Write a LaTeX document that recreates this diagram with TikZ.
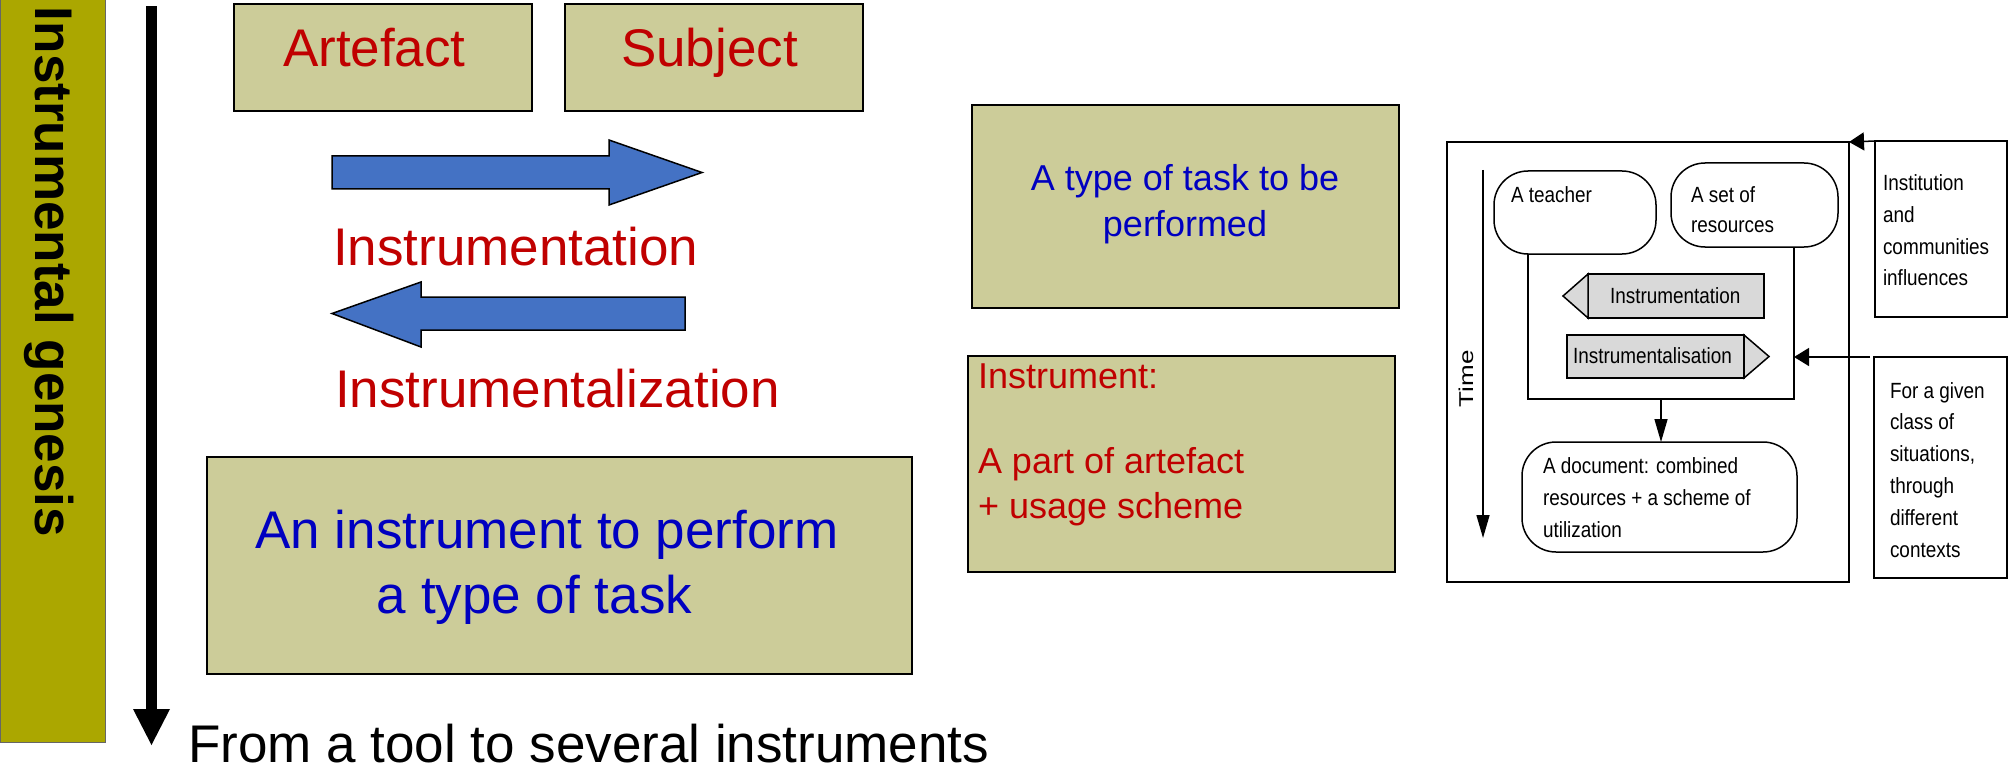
\documentclass[tikz,border=0pt]{standalone}
\usepackage{fontspec}
\setmainfont{Liberation Sans}
\newfontfamily\narrowB{Liberation Sans}[FakeStretch=0.86]
\newfontfamily\wideT{Liberation Sans}[FakeStretch=1.3]
\usetikzlibrary{arrows.meta,fit}

\definecolor{khaki}{HTML}{CCCC99}
\definecolor{olivebar}{HTML}{ABA700}
\definecolor{dred}{HTML}{C00000}
\definecolor{dblue}{HTML}{0000C0}
\definecolor{arrowblue}{HTML}{4472C4}
\definecolor{lgray}{HTML}{D9D9D9}

\newcommand{\leftlines}[1]{\begin{tabular}[t]{@{}l@{}}#1\end{tabular}}
\newcommand{\centerlines}[1]{\begin{tabular}[t]{@{}c@{}}#1\end{tabular}}

\begin{document}
\begin{tikzpicture}[x=1pt,y=-1pt,
  box/.style={draw=black, line width=2.5pt, fill=khaki, inner sep=0pt, outer sep=0pt},
  txt/.style={inner sep=0pt, outer sep=0pt, anchor=base west},
  bigred/.style={txt, text=dred, font=\fontsize{53}{60}\selectfont},
  small/.style={txt, font=\narrowB\fontsize{22}{31.5}\selectfont},
  thinbox/.style={draw=black, line width=1.5pt, inner sep=0pt, outer sep=0pt},
  roundbox/.style={thinbox, rounded corners=34pt},
  thinline/.style={draw=black, line width=1.5pt},
  longtip/.style={-{Triangle[length=23pt,width=13pt]}},
  shorttip/.style={-{Triangle[length=15pt,width=18pt]}},
  bluearrow/.style={fill=arrowblue, draw=black, line width=1.5pt},
  grayarrow/.style={fill=lgray, draw=black, line width=1.5pt}
]
\useasboundingbox (0,0) rectangle (2009,770);

% ---------- left column: title bar and time line ----------
\node[fit={(0,0) (105,742)}, fill=olivebar, draw=black!60, line width=1pt, inner sep=0pt] (bar) {};
\node[rotate=-90, txt, font=\fontsize{53}{60}\selectfont\bfseries] (bartitle) at (35,7) {Instrumental genesis};

\fill (146,6) rectangle (157,712);
\fill (133,709) -- (170,709) -- (151.5,745) -- cycle;
\node[txt, font=\fontsize{53}{60}\selectfont] (fromtool) at (188,762) {From a tool to several instruments};

% ---------- artefact / subject ----------
\node[box, fit={(234,4) (532,111)}] (artefact) {};
\node[box, fit={(565,4) (863,111)}] (subject) {};
\node[bigred] (artefactlbl) at (283,67) {Artefact};
\node[bigred] (subjectlbl) at (621,67) {Subject};

% block arrows
\path[bluearrow] (332,156) -- (609,156) -- (609,140) -- (702,172.5) -- (609,205) -- (609,189) -- (332,189) -- cycle;
\node[bigred] (instrumentation) at (333,265) {Instrumentation};
\path[bluearrow] (685,297) -- (421,297) -- (421,282) -- (332,313.5) -- (421,347) -- (421,330) -- (685,330) -- cycle;
\node[bigred] (instrumentalization) at (335,407) {Instrumentalization};

% resulting instrument
\node[box, fit={(207,457) (912,674)}] (result) {};
\node[inner sep=0pt, anchor=base, text=dblue, font=\fontsize{53}{65}\selectfont] (resultlbl) at (547,548)
  {\centerlines{An instrument to perform\\a type of task\hspace*{25pt}}};

% ---------- middle column ----------
\node[box, fit={(972,105) (1399,308)}] (task) {};
\node[inner sep=0pt, anchor=base, text=dblue, font=\fontsize{36}{46}\selectfont] (tasklbl) at (1185,191)
  {\centerlines{A type of task to be\\performed}};

\node[box, fit={(968,356) (1395,572)}] (instrument) {};
\node[txt, text=dred, font=\fontsize{36}{45}\selectfont] (instrumentlbl) at (978,388)
  {\leftlines{Instrument:\\[40pt]A part of artefact\\+ usage scheme}};

% ---------- right column: documentational genesis scheme ----------
\node[thinbox, line width=2pt, fit={(1447,142) (1849,582)}] (outer) {};

\coordinate (t0) at (1483,170);
\coordinate (t1) at (1483,538);
\draw[thinline, longtip] (t0) -- (t1);
\node[rotate=90, txt, font=\wideT\fontsize{20}{24}\selectfont] (timelbl) at (1473,407) {Time};

\node[roundbox, fit={(1494,171) (1656,254)}] (teacher) {};
\node[small] at (1511,203) {A teacher};
\node[roundbox, fit={(1671,163) (1838,247)}] (resources) {};
\node[small, font=\narrowB\fontsize{22}{30.5}\selectfont] at (1691,202) {\leftlines{A set of\\resources}};

\coordinate (fl) at (1528,399);
\coordinate (fr) at (1794,399);
\coordinate (fm) at (1661,399);
\draw[thinline] (teacher.south -| fl) -- (fl) -- (fr) -- (resources.south -| fr);

% instrumentation / instrumentalisation tags
\node[thinbox, fill=lgray, fit={(1588,274) (1764,318)}] (tagA) {};
\path[grayarrow] (tagA.north west) -- (1563,296) -- (tagA.south west) -- cycle;
\node[small] at (1610,303) {Instrumentation};
\node[thinbox, fill=lgray, fit={(1567,335) (1744,378)}] (tagB) {};
\path[grayarrow] (tagB.north east) -- (1769,356.5) -- (tagB.south east) -- cycle;
\node[small] at (1573,363) {Instrumentalisation};

\node[roundbox, fit={(1522,442) (1797,552)}] (document) {};
\node[small, font=\narrowB\fontsize{22}{32}\selectfont] at (1543,473)
  {\leftlines{A document: combined\\resources + a scheme of\\utilization}};
\draw[thinline, longtip] (fm) -- (fm |- document.north);

% influences
\node[thinbox, fit={(1875,141) (2007,317)}] (institution) {};
\node[small] at (1883,191) {\leftlines{Institution\\and\\communities\\influences}};
\draw[thinline, shorttip] (institution.north west) -- (outer.north east);

\node[thinbox, fit={(1874,357) (2007,578)}] (given) {};
\node[small, font=\narrowB\fontsize{22}{31.8}\selectfont] at (1890,398)
  {\leftlines{For a given\\class of\\situations,\\through\\different\\contexts}};
\draw[thinline, shorttip] ([xshift=-4pt]given.north west) -- (given.north west -| fr);

\end{tikzpicture}
\end{document}
